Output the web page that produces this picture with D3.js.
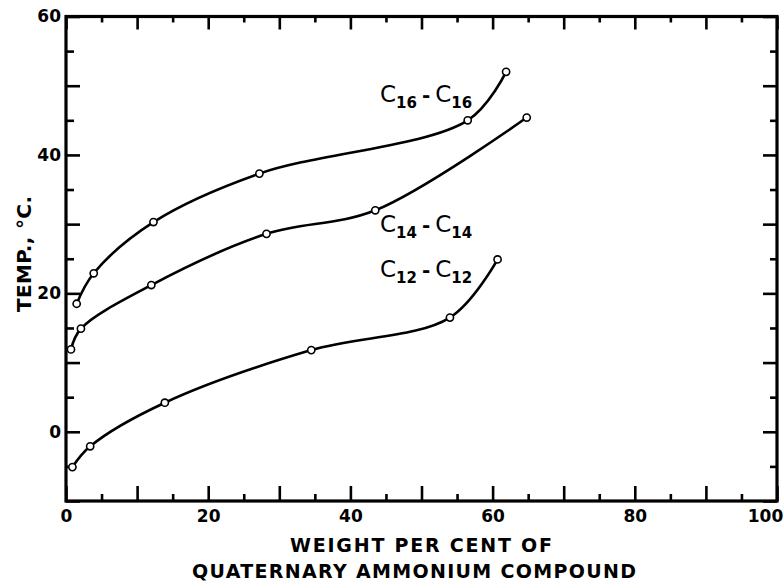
<!DOCTYPE html>
<html>
<head>
<meta charset="utf-8">
<script src="https://cdn.jsdelivr.net/npm/d3@7"></script>
<style>
  html, body { margin: 0; padding: 0; background: #fff; }
  svg { display: block; }
  text { font-family: "DejaVu Sans", "Liberation Sans", sans-serif; font-weight: bold; fill: #000; }
</style>
</head>
<body>
<svg id="chart" width="783" height="584"></svg>
<script>
// ---- Data ----
const c16Weight = [1.5, 3.9, 12.3, 27.2, 56.5, 61.9];
const c16Temp   = [18.5, 22.9, 30.3, 37.3, 45.0, 52.0];
const c14Weight = [0.7, 2.1, 12.0, 28.2, 43.5, 64.8];
const c14Temp   = [11.9, 14.9, 21.2, 28.6, 32.0, 45.4];
const c12Weight = [0.9, 3.4, 13.9, 34.5, 54.0, 60.7];
const c12Temp   = [-5.1, -2.1, 4.2, 11.8, 16.5, 24.9];
const seriesNames = ["16", "14", "12"];
const xMajorTicks = [0, 10, 20, 30, 40, 50, 60, 70, 80, 90, 100];
const xMinorTicks = [5, 15, 25, 35, 45, 55, 65, 75, 85, 95];
const xLabelTicks = [0, 20, 40, 60, 80, 100];
const yMajorTicks = [-10, 0, 10, 20, 30, 40, 50, 60];
const yMinorTicks = [-5, 5, 15, 25, 35, 45, 55];
const yLabelTicks = [0, 20, 40, 60];
const xTitle1 = "WEIGHT PER CENT OF";
const xTitle2 = "QUATERNARY AMMONIUM COMPOUND";
const yTitle = "TEMP., °C.";

const svg = d3.select("#chart");
const x = d3.scaleLinear().domain([0, 100]).range([66, 777]);
const y = d3.scaleLinear().domain([-10, 60]).range([501, 16.5]);

const series = [
  { name: seriesNames[0], pts: c16Weight.map((w, i) => [w, c16Temp[i]]), label: [380, 102] },
  { name: seriesNames[1], pts: c14Weight.map((w, i) => [w, c14Temp[i]]), label: [380, 232] },
  { name: seriesNames[2], pts: c12Weight.map((w, i) => [w, c12Temp[i]]), label: [380, 277] }
];

const lblFmt = d => (xLabelTicks.includes(d) ? String(d) : "");
const ylblFmt = d => (yLabelTicks.includes(d) ? String(d) : "");

function styleAxis(g) {
  g.select(".domain").remove();
  g.selectAll(".tick line").attr("stroke", "#000").attr("stroke-width", 2.6);
  g.selectAll(".tick text").style("font-size", "17px").style("font-family", "DejaVu Sans, sans-serif").style("font-weight", "bold");
}

// bottom axis
svg.append("g").attr("transform", `translate(0,${y(-10)})`)
  .call(d3.axisBottom(x).tickValues(xMajorTicks).tickSize(-15).tickPadding(9).tickFormat(lblFmt))
  .call(styleAxis)
  .call(g => g.selectAll(".tick text").filter(d => d === 100).attr("dx", -12));
svg.append("g").attr("transform", `translate(0,${y(-10)})`)
  .call(d3.axisBottom(x).tickValues(xMinorTicks).tickSize(-7).tickFormat(() => ""))
  .call(styleAxis);
// top axis
svg.append("g").attr("transform", `translate(0,${y(60)})`)
  .call(d3.axisTop(x).tickValues(xMajorTicks).tickSize(-13).tickFormat(() => ""))
  .call(styleAxis);
svg.append("g").attr("transform", `translate(0,${y(60)})`)
  .call(d3.axisTop(x).tickValues(xMinorTicks).tickSize(-6).tickFormat(() => ""))
  .call(styleAxis);
// left axis
svg.append("g").attr("transform", `translate(${x(0)},0)`)
  .call(d3.axisLeft(y).tickValues(yMajorTicks).tickSize(-14).tickPadding(5).tickFormat(ylblFmt))
  .call(styleAxis);
svg.append("g").attr("transform", `translate(${x(0)},0)`)
  .call(d3.axisLeft(y).tickValues(yMinorTicks).tickSize(-8).tickFormat(() => ""))
  .call(styleAxis);
// right axis
svg.append("g").attr("transform", `translate(${x(100)},0)`)
  .call(d3.axisRight(y).tickValues(yMajorTicks).tickSize(-14).tickFormat(() => ""))
  .call(styleAxis);
svg.append("g").attr("transform", `translate(${x(100)},0)`)
  .call(d3.axisRight(y).tickValues(yMinorTicks).tickSize(-7).tickFormat(() => ""))
  .call(styleAxis);

// frame
svg.append("rect")
  .attr("x", x(0)).attr("y", y(60))
  .attr("width", x(100) - x(0)).attr("height", y(-10) - y(60))
  .attr("fill", "none").attr("stroke", "#000").attr("stroke-width", 3.2);

// curves
const line = d3.line().x(d => x(d[0])).y(d => y(d[1])).curve(d3.curveCatmullRom.alpha(0.5));
svg.selectAll("path.curve").data(series).enter().append("path")
  .attr("class", "curve")
  .attr("d", d => line(d.pts))
  .attr("fill", "none").attr("stroke", "#000").attr("stroke-width", 2.6);

// points
series.forEach(s => {
  svg.selectAll(null).data(s.pts).enter().append("circle")
    .attr("cx", d => x(d[0])).attr("cy", d => y(d[1])).attr("r", 3.6)
    .attr("fill", "#fff").attr("stroke", "#000").attr("stroke-width", 1.6);
});

// curve labels
series.forEach(s => {
  const t = svg.append("text").attr("x", s.label[0]).attr("y", s.label[1]).style("font-size", "23px").style("font-weight", "normal");
  t.append("tspan").text("C");
  t.append("tspan").attr("dy", 6).style("font-size", "15px").style("font-weight", "bold").text(s.name);
  t.append("tspan").attr("dy", -6).attr("dx", 5).style("font-size", "20px").style("font-weight", "bold").text("-");
  t.append("tspan").attr("dx", 5).text("C");
  t.append("tspan").attr("dy", 6).style("font-size", "15px").style("font-weight", "bold").text(s.name);
});

// axis titles
svg.append("text").attr("x", 421).attr("y", 552).attr("text-anchor", "middle")
  .attr("textLength", 262).attr("lengthAdjust", "spacing")
  .style("font-size", "19px").text(xTitle1);
svg.append("text").attr("x", 414).attr("y", 578).attr("text-anchor", "middle")
  .attr("textLength", 444).attr("lengthAdjust", "spacing")
  .style("font-size", "19px").text(xTitle2);
svg.append("text").attr("transform", "translate(31,254) rotate(-90)").attr("text-anchor", "middle")
  .attr("textLength", 116).attr("lengthAdjust", "spacing")
  .style("font-size", "20px").text(yTitle);
</script>
</body>
</html>
